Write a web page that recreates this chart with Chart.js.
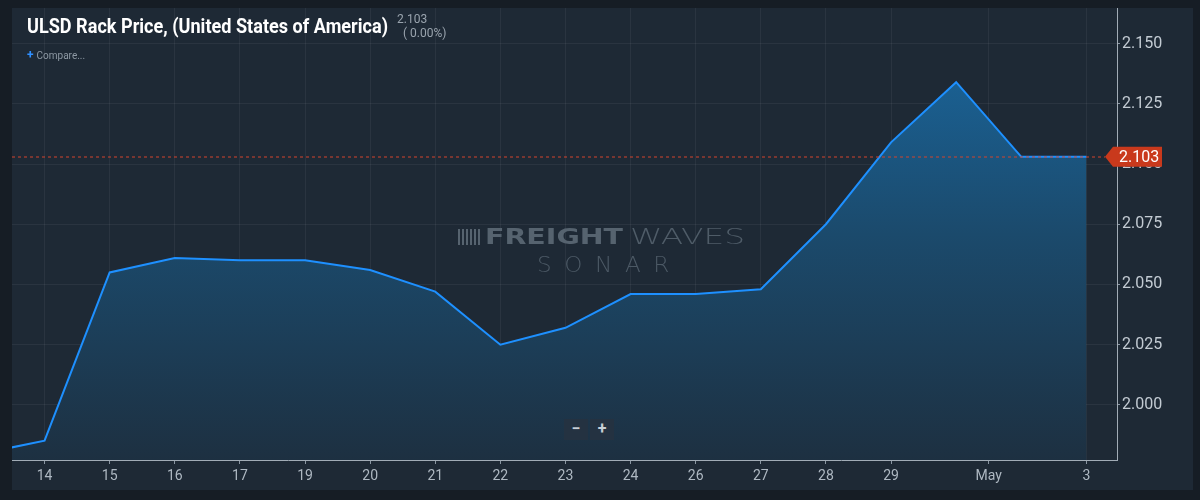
<!DOCTYPE html>
<html>
<head>
<meta charset="utf-8">
<script src="https://cdn.jsdelivr.net/npm/chart.js@4.4.0/dist/chart.umd.min.js"></script>
<style>
  html,body{margin:0;padding:0;background:#161d25;width:1200px;height:500px;overflow:hidden;font-family:Roboto,"Noto Sans",sans-serif;}
  #panel{position:absolute;left:12px;top:8px;width:1181px;height:482px;background:#1e2935;}
  #wrap{position:absolute;left:0;top:0;width:1200px;height:500px;}
  .ov{position:absolute;pointer-events:none;white-space:nowrap;}
  #title{left:27px;top:14px;color:#ffffff;font-weight:700;font-size:21px;transform-origin:0 0;}
  #val{left:397px;top:12px;color:#9aa4ae;font-size:12px;}
  #chg{left:403px;top:26px;color:#9aa4ae;font-size:12px;}
  #cmp{left:27px;top:48px;color:#8d98a3;font-size:10px;}
  #cmp b{color:#2f8fff;font-size:12px;margin-right:3px;}
  .wm{position:absolute;pointer-events:none;white-space:nowrap;font-family:"DejaVu Sans",sans-serif;font-size:22px;line-height:22px;transform-origin:0 0;}
  #bars{left:458px;top:229px;width:22px;height:16px;background:repeating-linear-gradient(90deg,#56636f 0 2px,transparent 2px 4px);}
  .btn{position:absolute;top:419px;width:24px;height:21px;background:#243241;color:#c7cfd7;font-size:16px;text-align:center;line-height:20px;font-weight:700;}
</style>
</head>
<body>
<div id="panel"></div>
<div id="wrap"><canvas id="c" width="1200" height="500"></canvas></div>
<div class="ov" id="title">ULSD Rack Price, (United States of America)</div>
<div class="ov" id="val">2.103</div>
<div class="ov" id="chg">( 0.00%)</div>
<div class="ov" id="cmp"><b>+</b>Compare...</div>
<div class="wm" id="bars"></div>
<div class="wm" id="fr" style="left:485px;top:226px;color:#56636f;font-weight:700;" data-w="138">FREIGHT</div>
<div class="wm" id="wv" style="left:630px;top:226px;color:#4f5c68;font-weight:200;" data-w="115">WAVES</div>
<div class="wm" id="so" style="left:537px;top:254px;color:#4c5965;font-weight:200;letter-spacing:12px;" data-w="145">SONAR</div>
<div class="btn" style="left:564px;">−</div>
<div class="btn" style="left:590px;">+</div>
<script>
// ---- data ----
const dayIndex = [-1, 0, 1, 2, 3, 4, 5, 6, 7, 8, 9, 10, 11, 12, 13, 14, 15, 16];
const prices   = [1.9796, 1.9851, 2.055, 2.061, 2.060, 2.060, 2.056, 2.047, 2.025, 2.032, 2.046, 2.046, 2.048, 2.075, 2.109, 2.134, 2.103, 2.103];
const xTickPos    = [0, 1, 2, 3, 4, 5, 6, 7, 8, 9, 10, 11, 12, 13, 14.5, 16];
const xTickLabels = ['14','15','16','17','19','20','21','22','23','24','26','27','28','29','May','3'];
const yTicks = [2.000, 2.025, 2.050, 2.075, 2.100, 2.125, 2.150];
const lastPrice = prices[prices.length - 1];

// fit overlay text widths
const t = document.getElementById('title');
t.style.transform = 'scaleX(' + (361 / t.getBoundingClientRect().width) + ')';
document.querySelectorAll('.wm[data-w]').forEach(el => {
  const w = el.getBoundingClientRect().width;
  el.style.transform = 'scaleX(' + (Number(el.dataset.w) / w) + ')';
});

const priceTag = {
  id: 'priceTag',
  afterDraw(chart) {
    const {ctx, chartArea, scales} = chart;
    const y = scales.y.getPixelForValue(lastPrice);
    const tip = chartArea.right - 12;
    ctx.save();
    ctx.strokeStyle = '#d2452e';
    ctx.setLineDash([3, 3]);
    ctx.lineWidth = 1;
    ctx.beginPath();
    ctx.moveTo(chartArea.left, Math.round(y));
    ctx.lineTo(tip, Math.round(y));
    ctx.stroke();
    ctx.setLineDash([]);
    ctx.fillStyle = '#c9391c';
    ctx.beginPath();
    ctx.moveTo(tip, y);
    ctx.lineTo(tip + 8, y - 10);
    ctx.lineTo(chartArea.right + 45, y - 10);
    ctx.lineTo(chartArea.right + 45, y + 10);
    ctx.lineTo(tip + 8, y + 10);
    ctx.closePath();
    ctx.fill();
    ctx.fillStyle = '#ffffff';
    ctx.font = '16px Roboto';
    ctx.textBaseline = 'middle';
    ctx.textAlign = 'left';
    ctx.fillText(lastPrice.toFixed(3), chartArea.right + 2, y + 1);
    ctx.restore();
  }
};

new Chart(document.getElementById('c'), {
  type: 'line',
  data: {
    datasets: [{
      data: dayIndex.map((d, i) => ({x: d, y: prices[i]})),
      borderColor: '#1e90ff',
      borderWidth: 2,
      pointRadius: 0,
      tension: 0,
      clip: 0,
      fill: 'start',
      backgroundColor(ctx) {
        const ca = ctx.chart.chartArea;
        if (!ca) return 'rgba(26,100,150,0.6)';
        const g = ctx.chart.ctx.createLinearGradient(0, ca.top, 0, ca.bottom);
        g.addColorStop(0, '#1a6aa3');
        g.addColorStop(0.5, '#1b4a6c');
        g.addColorStop(1, '#1d3041');
        return g;
      }
    }]
  },
  options: {
    responsive: false,
    animation: false,
    devicePixelRatio: 1,
    layout: {padding: {left: 12, top: 8, right: 7, bottom: 10}},
    plugins: {legend: {display: false}, tooltip: {enabled: false}},
    scales: {
      x: {
        type: 'linear',
        min: -0.5,
        max: 16.47,
        afterBuildTicks(s) { s.ticks = xTickPos.map(v => ({value: v})); },
        afterFit(s) { s.height = 30; s.paddingLeft = 0; s.paddingRight = 0; },
        grid: {color: 'rgba(255,255,255,0.055)', tickColor: '#8a96a2', tickLength: 4},
        border: {color: '#a2acb6', width: 1},
        ticks: {
          color: '#aeb8c2', font: {size: 14, family: 'Roboto'}, padding: 4, maxRotation: 0, autoSkip: false,
          callback(v, i) { return xTickLabels[i]; }
        }
      },
      y: {
        position: 'right',
        min: 1.9771,
        max: 2.1648,
        afterBuildTicks(s) { s.ticks = yTicks.map(v => ({value: v})); },
        afterFit(s) { s.width = 76; s.paddingTop = 0; s.paddingBottom = 0; },
        grid: {color: 'rgba(255,255,255,0.055)', tickColor: '#8a96a2', tickLength: 3},
        border: {color: '#a2acb6', width: 1},
        ticks: {
          color: '#c3cbd3', font: {size: 16, family: 'Roboto'}, padding: 2,
          callback(v) { return Number(v).toFixed(3); }
        }
      }
    }
  },
  plugins: [priceTag]
});
</script>
</body>
</html>
